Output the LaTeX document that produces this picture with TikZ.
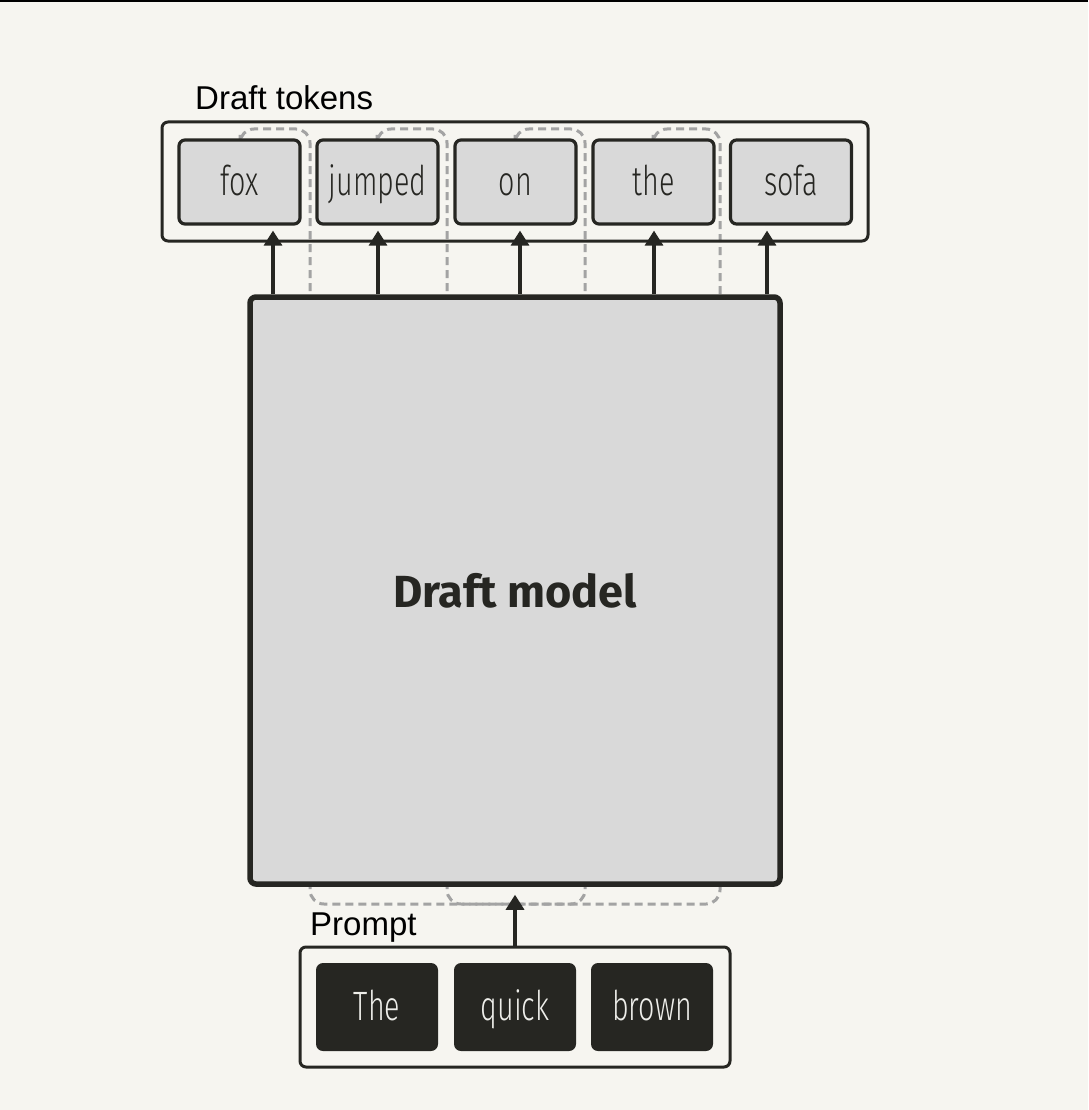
\documentclass[tikz,border=0pt]{standalone}
\usepackage{fontspec}
\setmainfont{Liberation Sans}
\newfontfamily\tokfont[FakeStretch=0.70, UprightFont={* Light}]{Fira Sans}
\newfontfamily\modelfont{Fira Sans}
\usetikzlibrary{arrows.meta}
\definecolor{bg}{HTML}{F6F5F0}
\definecolor{ink}{HTML}{262622}
\definecolor{tokfill}{HTML}{D9D9D9}
\definecolor{dashc}{HTML}{A3A3A3}
\definecolor{ptext}{HTML}{EEEEEA}
\tikzset{
  container/.style={draw=ink, line width=3pt, rounded corners=6pt, inner sep=0pt},
  tokbox/.style={draw=ink, line width=3.2pt, rounded corners=6pt, fill=tokfill, inner sep=0pt,
    minimum width=121pt, minimum height=84pt, text=ink, font=\tokfont\fontsize{41}{41}\selectfont,
    text height=30pt, text depth=4pt},
  promptbox/.style={rounded corners=7pt, fill=ink, inner sep=0pt,
    minimum width=122pt, minimum height=88pt, text=ptext, font=\tokfont\fontsize{41}{41}\selectfont,
    text height=30pt, text depth=4pt},
  modelbox/.style={draw=ink, line width=5.5pt, rounded corners=6pt, fill=tokfill, inner sep=0pt},
  lbl/.style={inner sep=0pt, text=black, font=\fontsize{33}{33}\selectfont},
  arr/.style={draw=ink, line width=3.2pt, -{Triangle[length=15pt,width=18pt]}},
  feedback/.style={draw=dashc, line width=3pt, dash pattern=on 8pt off 5pt, rounded corners=14pt},
}
\begin{document}
\begin{tikzpicture}[x=1pt,y=-1pt]
\fill[bg] (0,0) rectangle (1088,1110);
\useasboundingbox (0,0) rectangle (1088,1110);
\fill[black] (0,0) rectangle (1088,1.6);

% feedback dashed paths (behind everything)
\draw[feedback] (240,135) -- (240,129) -- (310,129) -- (310,904) -- (515,904);
\draw[feedback] (377,135) -- (377,129) -- (447,129) -- (447,904) -- (515,904);
\draw[feedback] (515,135) -- (515,129) -- (585,129) -- (585,904) -- (515,904);
\draw[feedback] (653,135) -- (653,129) -- (720,129) -- (720,904) -- (515,904);

% draft tokens
\node[container, minimum width=706pt, minimum height=119pt] (dt) at (515,181.5) {};
\node[lbl, anchor=base west] (dtl) at (195,110) {Draft tokens};
\node[tokbox] (fox) at (239.5,182) {fox};
\node[tokbox] (jumped) at (377.5,182) {jumped};
\node[tokbox] (on) at (515.5,182) {on};
\node[tokbox] (the) at (653.5,182) {the};
\node[tokbox] (sofa) at (791,182) {sofa};

% model
\node[modelbox, minimum width=530pt, minimum height=587pt] (model) at (515,590.5) {};
\node[inner sep=0pt, text=ink, font=\modelfont\bfseries\fontsize{45}{45}\selectfont] (mlabel) at (515,591) {Draft model};

% arrows to draft tokens
\foreach \t/\x in {fox/273, jumped/378, on/520, the/654, sofa/767}{
  \draw[arr] (model.north -| \x,0) -- ([yshift=-5pt]\t.south -| \x,0);
}

% prompt
\node[container, minimum width=430pt, minimum height=120pt] (pr) at (515,1007) {};
\node[lbl, anchor=base west] (prl) at (310,935) {Prompt};
\node[promptbox] (The) at (377,1007) {The};
\node[promptbox] (quick) at (515,1007) {quick};
\node[promptbox] (brown) at (652,1007) {brown};

\draw[arr] (pr.north) -- ([yshift=-8pt]model.south);
\end{tikzpicture}
\end{document}
